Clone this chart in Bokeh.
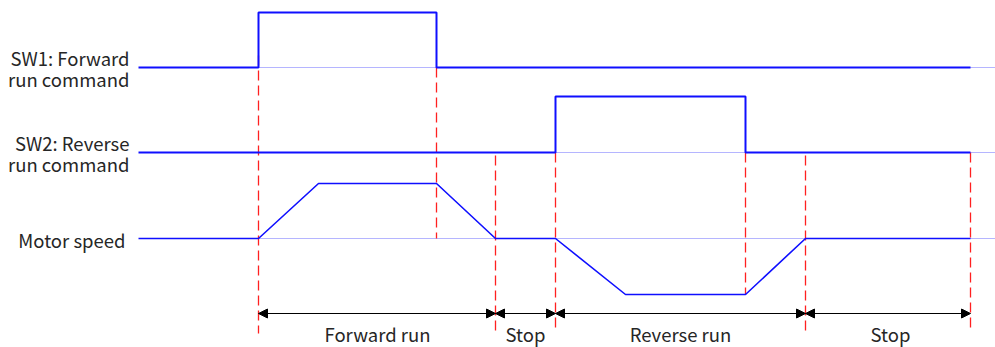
from bokeh.plotting import figure
from bokeh.models import Range1d, Arrow, NormalHead
from bokeh.core.properties import value
from bokeh.embed import file_html
from bokeh.resources import INLINE

# ---- data (time axis in px-like units, levels in px-like units, y downwards) ----
t_begin = 138
t_end = 970
ref_end = 995

# event times
t_fwd_on = 258
t_fwd_acc_end = 318
t_fwd_off = 436
t_fwd_stop = 495
t_rev_on = 555
t_rev_acc_end = 625
t_rev_off = 745
t_rev_stop = 805

# channel baselines and amplitudes
sw1_base, sw1_high = 67, 12
sw2_base, sw2_high = 152, 96
mot_base, mot_fwd, mot_rev = 238, 183, 294

sw1_x = [t_begin, t_fwd_on, t_fwd_on, t_fwd_off, t_fwd_off, t_end]
sw1_y = [sw1_base, sw1_base, sw1_high, sw1_high, sw1_base, sw1_base]
sw2_x = [t_begin, t_rev_on, t_rev_on, t_rev_off, t_rev_off, t_end]
sw2_y = [sw2_base, sw2_base, sw2_high, sw2_high, sw2_base, sw2_base]
mot_x = [t_begin, t_fwd_on, t_fwd_acc_end, t_fwd_off, t_fwd_stop, t_rev_on,
         t_rev_acc_end, t_rev_off, t_rev_stop, t_end]
mot_y = [mot_base, mot_base, mot_fwd, mot_fwd, mot_base, mot_base,
         mot_rev, mot_rev, mot_base, mot_base]

# red dashed markers
mark_x = [t_fwd_on, t_fwd_off, t_fwd_stop, t_rev_on, t_rev_off, t_rev_stop, t_end]
mark_top = [55, 67, 155, 152, 152, 155, 152]
mark_bot = [333, 238, 330, 330, 294, 330, 330]

# phases
arrow_y = 313
phase_start = [t_fwd_on, t_fwd_stop, t_rev_on, t_rev_stop]
phase_end = [t_fwd_stop, t_rev_on, t_rev_stop, t_end]
phase_label = ["Forward run", "Stop", "Reverse run", "Stop"]
phase_label_x = [377, 525, 680, 890]
phase_label_y = 333

chan_labels = ["SW1: Forward", "run command", "SW2: Reverse", "run command", "Motor speed"]
chan_label_x = [129, 129, 129, 129, 125]
chan_label_y = [57, 78, 142, 163, 239]

W, H = 995, 347
p = figure(width=W, height=H, output_backend="svg", toolbar_location=None,
           x_range=Range1d(0, W), y_range=Range1d(H, 0),
           min_border=0)
p.axis.visible = False
p.grid.visible = False
p.outline_line_color = None
p.background_fill_color = "white"
p.border_fill_color = "white"

blue = "#0f0fff"
# thin reference lines
for yb in [sw1_base, sw2_base, mot_base]:
    p.segment(x0=[t_fwd_on], y0=[yb], x1=[ref_end], y1=[yb],
              line_color="#6a6aff", line_width=1, line_dash="1 1")

# red dashed markers
p.segment(x0=mark_x, y0=mark_top, x1=mark_x, y1=mark_bot,
          line_color="#ff2020", line_width=1.3, line_dash="10 5")

# signals
p.line(sw1_x, sw1_y, line_color=blue, line_width=2)
p.line(sw2_x, sw2_y, line_color=blue, line_width=2)
p.line(mot_x, mot_y, line_color=blue, line_width=1.6)

# phase arrows
for xs, xe in zip(phase_start, phase_end):
    p.add_layout(Arrow(x_start=xs, y_start=arrow_y, x_end=xe, y_end=arrow_y,
                       line_color="black", line_width=1,
                       end=NormalHead(size=9, fill_color="black", line_color="black"),
                       start=NormalHead(size=9, fill_color="black", line_color="black")))

# phase labels
p.text(x=phase_label_x, y=[phase_label_y] * len(phase_label_x), text=phase_label,
       text_font=value("Noto Sans CJK SC"), text_font_size="18.5px", text_color="#262626",
       text_align="center", text_baseline="middle")

# channel labels
p.text(x=chan_label_x, y=chan_label_y, text=chan_labels,
       text_font=value("Noto Sans CJK SC"), text_font_size="18.5px", text_color="#262626",
       text_align="right", text_baseline="middle")

open("out.html", "w").write(file_html(p, INLINE))
